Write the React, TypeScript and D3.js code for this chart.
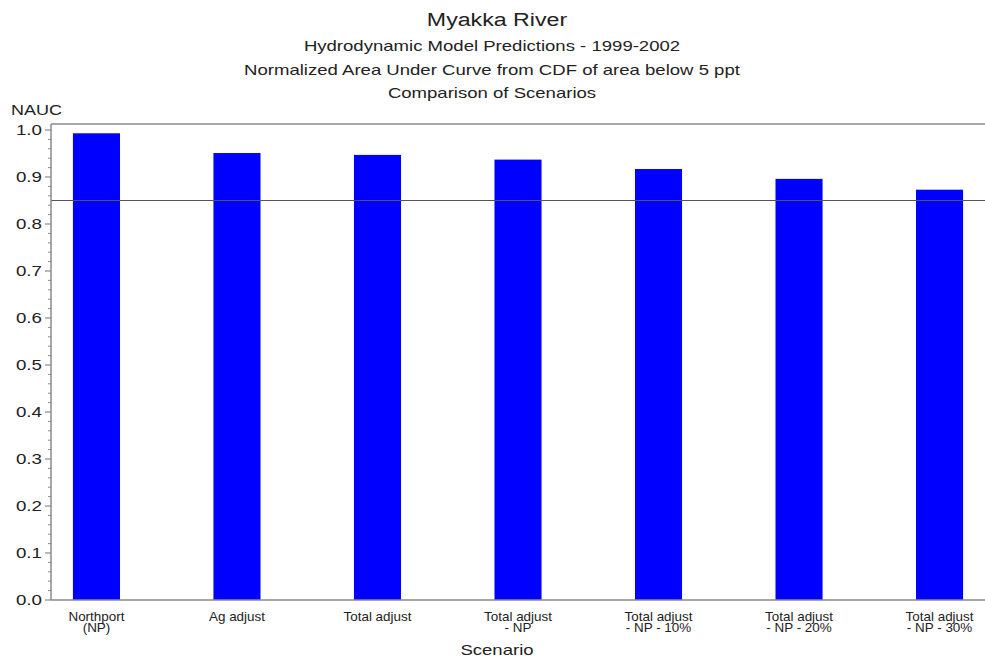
import * as d3 from "d3";
import { useRef, useEffect } from "react";

const scenarios = [
    "Northport\n(NP)",
    "Ag adjust",
    "Total adjust",
    "Total adjust\n- NP",
    "Total adjust\n- NP - 10%",
    "Total adjust\n- NP - 20%",
    "Total adjust\n- NP - 30%",
];
const nauc = [0.993, 0.951, 0.947, 0.937, 0.917, 0.896, 0.873];
const yTicks = [0, 0.1, 0.2, 0.3, 0.4, 0.5, 0.6, 0.7, 0.8, 0.9, 1.0];
const refValue = 0.85;
const titleLines = [
    "Hydrodynamic Model Predictions - 1999-2002",
    "Normalized Area Under Curve from CDF of area below 5 ppt",
    "Comparison of Scenarios",
];

export default function App() {
    const width = 985;
    const height = 663;
    const marginLeft = 51;
    const marginRight = 0;
    const plotTop = 124;
    const plotBottom = 600;

    const ref = useRef<SVGGElement>(null);
    useEffect(() => {
        const g = d3.select(ref.current);
        g.selectAll("*").remove();

        const font = "'Liberation Sans', Arial, sans-serif";
        // the source image is stretched horizontally, so text gets a scaleX
        const sx = 1.25;
        const place = (x: number, y: number, s = sx) => `translate(${x},${y}) scale(${s},1)`;

        const x = d3.scaleBand<string>()
            .domain(scenarios)
            .range([marginLeft, width - marginRight])
            .paddingInner(0.665)
            .paddingOuter(0.156);

        const y = d3.scaleLinear()
            .domain([0, 1.0])
            .range([plotBottom, 130]);

        // bars
        g.selectAll(".bar")
            .data(nauc)
            .join("rect")
            .attr("class", "bar")
            .attr("x", (_, i) => x(scenarios[i])!)
            .attr("width", x.bandwidth())
            .attr("y", d => y(d))
            .attr("height", d => plotBottom - y(d))
            .attr("fill", "#0000ff");

        // frame: top line, reference line, bottom axis
        g.append("line")
            .attr("x1", marginLeft).attr("x2", width)
            .attr("y1", plotTop).attr("y2", plotTop)
            .attr("stroke", "#8a8a8a").attr("stroke-width", 1.5);

        g.append("line")
            .attr("x1", marginLeft).attr("x2", width)
            .attr("y1", y(refValue)).attr("y2", y(refValue))
            .attr("stroke", "#555").attr("stroke-width", 1.2);

        g.append("line")
            .attr("x1", marginLeft).attr("x2", width)
            .attr("y1", plotBottom).attr("y2", plotBottom)
            .attr("stroke", "#8a8a8a").attr("stroke-width", 1.5);

        // left axis with minor ticks
        g.append("line")
            .attr("x1", marginLeft).attr("x2", marginLeft)
            .attr("y1", plotTop).attr("y2", plotBottom)
            .attr("stroke", "#8a8a8a").attr("stroke-width", 1.5);

        const minor = d3.range(0, 51).map(i => i * 0.02).filter(v => Math.round(v * 50) % 5 !== 0);
        g.selectAll(".minor")
            .data(minor)
            .join("line")
            .attr("class", "minor")
            .attr("x1", marginLeft - 3).attr("x2", marginLeft)
            .attr("y1", d => y(d)).attr("y2", d => y(d))
            .attr("stroke", "#8a8a8a").attr("stroke-width", 1);

        g.selectAll(".major")
            .data(yTicks)
            .join("line")
            .attr("class", "major")
            .attr("x1", marginLeft - 6).attr("x2", marginLeft)
            .attr("y1", d => y(d)).attr("y2", d => y(d))
            .attr("stroke", "#8a8a8a").attr("stroke-width", 1.2);

        g.selectAll(".ylabel")
            .data(yTicks)
            .join("text")
            .attr("class", "ylabel")
            .attr("transform", d => place(marginLeft - 9, y(d)))
            .attr("dy", "0.36em")
            .attr("text-anchor", "end")
            .attr("font-family", font)
            .attr("font-size", 15)
            .attr("fill", "#222")
            .text(d => d3.format(".1f")(d));

        // x labels
        const xl = g.selectAll(".xlabel")
            .data(scenarios)
            .join("text")
            .attr("class", "xlabel")
            .attr("transform", d => place(x(d)! + x.bandwidth() / 2, 621, 1.12))
            .attr("text-anchor", "middle")
            .attr("font-family", font)
            .attr("font-size", 12)
            .attr("fill", "#222");
        xl.each(function (d) {
            const t = d3.select(this);
            d.split("\n").forEach((line, i) => {
                t.append("tspan")
                    .attr("x", 0)
                    .attr("dy", i === 0 ? 0 : 11)
                    .text(line);
            });
        });

        // titles
        g.append("text")
            .attr("transform", place(497, 26, 1.22))
            .attr("text-anchor", "middle")
            .attr("font-family", font).attr("font-size", 19)
            .attr("fill", "#222")
            .text("Myakka River");

        g.selectAll(".subtitle")
            .data(titleLines)
            .join("text")
            .attr("class", "subtitle")
            .attr("transform", (_, i) => place(492, 51 + i * 23.5, 1.28))
            .attr("text-anchor", "middle")
            .attr("font-family", font).attr("font-size", 14.5)
            .attr("fill", "#222")
            .text(d => d);

        g.append("text")
            .attr("transform", place(11, 115, 1.2))
            .attr("font-family", font).attr("font-size", 15)
            .attr("fill", "#222")
            .text("NAUC");

        g.append("text")
            .attr("transform", place(497, 655, 1.28))
            .attr("text-anchor", "middle")
            .attr("font-family", font).attr("font-size", 14.5)
            .attr("fill", "#222")
            .text("Scenario");
    }, []);

    return (
        <svg width={width} height={height} viewBox={`0 0 ${width} ${height}`}
             style={{ position: "absolute", left: 0, top: 0, background: "#fff" }}>
            <g ref={ref}></g>
        </svg>
    );
}
